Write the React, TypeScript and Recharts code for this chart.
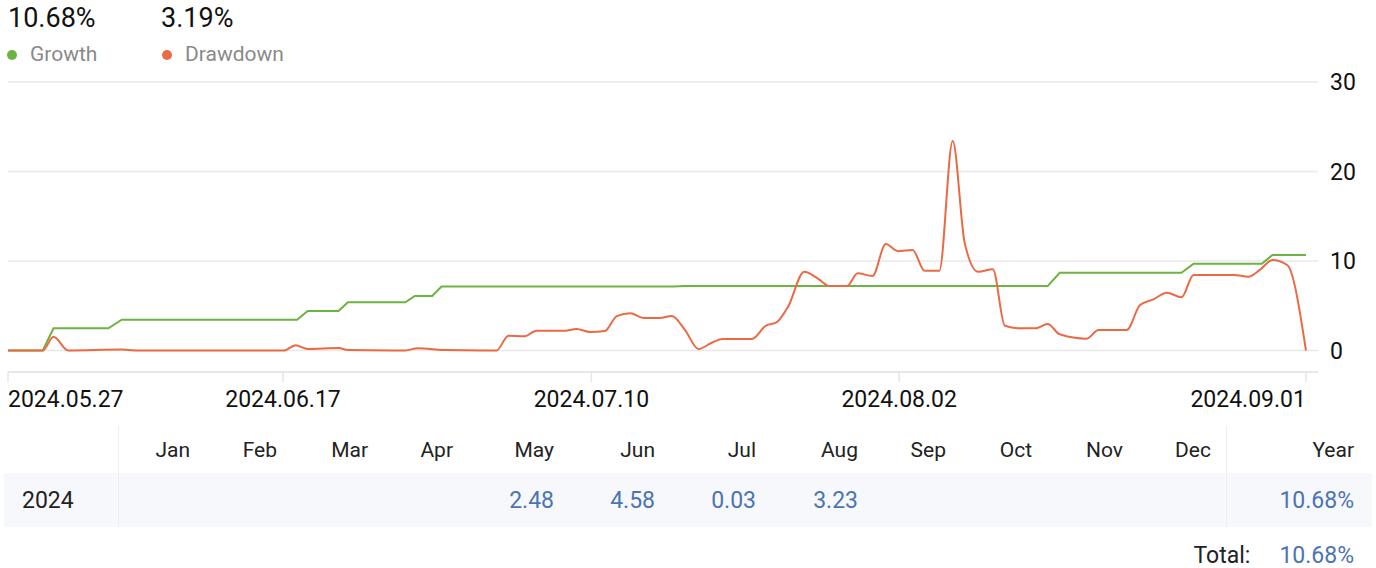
import React from "react"
import { LineChart, Line, XAxis, YAxis, CartesianGrid } from "recharts"

const GREEN = "#6cb33f"
const ORANGE = "#eb6a43"
const BLUE = "#4b74b4"

const growthTotal = "10.68%"
const drawdownMax = "3.19%"

// days since 2024.05.27
const growthX = [0, 2.6, 3.4, 7.5, 8.5, 21.6, 22.4, 24.7, 25.4, 29.7, 30.4, 31.7, 32.4, 49.7, 50.6, 77.7, 78.6, 87.7, 88.6, 93.7, 94.5, 97]
const growthY = [0, 0, 2.48, 2.48, 3.44, 3.44, 4.41, 4.41, 5.39, 5.39, 6.09, 6.09, 7.15, 7.15, 7.2, 7.2, 8.69, 8.69, 9.7, 9.7, 10.68, 10.68]

const drawdownX = [
  0, 2.6, 3.4, 4.5, 8.5, 9.5, 20.6, 21.5, 22.4, 24.7, 25.4, 29.7, 30.6, 32.7, 36.5, 37.4, 38.6, 39.5,
  41.5, 42.5, 43.5, 44.6, 45.5, 46.5, 47.5, 48.7, 49.6, 50.6, 51.6, 52.6, 53.4, 55.6, 56.6, 57.5,
  58.3, 59.5, 60.5, 61.4, 62.7, 63.5, 64.6, 65.6, 66.5, 67.6, 68.5, 69.6, 70.6, 71.5, 72.5, 73.6,
  74.5, 75.6, 76.8, 77.7, 78.6, 80.6, 81.5, 83.6, 84.6, 85.6, 86.6, 87.7, 88.6, 91.6, 92.7, 93.6,
  94.5, 95.6, 97,
]
const drawdownY = [
  0, 0, 1.54, 0, 0.1, 0, 0, 0.6, 0.17, 0.28, 0.05, 0, 0.25, 0.05, 0, 1.65, 1.6, 2.2,
  2.2, 2.4, 2.07, 2.18, 3.85, 4.15, 3.63, 3.63, 3.85, 2.29, 0.17, 0.87, 1.28, 1.28, 2.74, 3.22,
  4.9, 8.8, 8.07, 7.2, 7.2, 8.63, 8.32, 11.9, 11.1, 11.23, 8.92, 8.92, 23.4, 11.98, 8.8, 9.07,
  2.77, 2.48, 2.48, 2.96, 1.81, 1.32, 2.29, 2.29, 5.08, 5.72, 6.46, 5.94, 8.44, 8.44, 8.25, 9.07,
  10.11, 9.55, 0,
]

const xTicks = [0, 20.55, 43.6, 66.6, 97]
const xTickLabels = ["2024.05.27", "2024.06.17", "2024.07.10", "2024.08.02", "2024.09.01"]
const yTicks = [0, 10, 20, 30]

const months = ["Jan", "Feb", "Mar", "Apr", "May", "Jun", "Jul", "Aug", "Sep", "Oct", "Nov", "Dec"]
const monthValues = ["", "", "", "", "2.48", "4.58", "0.03", "3.23", "", "", "", ""]
const yearLabel = "2024"
const yearValue = "10.68%"
const totalValue = "10.68%"

// widths of the month columns (px), text right-aligned
const colWidths = [71, 87, 91, 85, 101, 101, 101, 102, 88, 86, 91, 103]

const growthData = growthX.map((x, i) => ({ x, v: growthY[i] }))
const drawdownData = drawdownX.map((x, i) => ({ x, v: drawdownY[i] }))

const DateTick = (props: any) => {
  const { x, y, payload } = props
  const i = xTicks.indexOf(payload.value)
  const anchor = i === 0 ? "start" : i === xTicks.length - 1 ? "end" : "middle"
  return (
    <text x={x} y={y} dy="0.71em" textAnchor={anchor} fill="#111" fontSize={23} fontFamily="Roboto">
      {xTickLabels[i]}
    </text>
  )
}

const Dot = ({ color, left }: { color: string; left: number }) => (
  <div style={{ position: "absolute", left, top: 50, width: 10, height: 10, borderRadius: 5, background: color }} />
)

export default function App() {
  const gridCols = `115px ${colWidths.map((w) => w + "px").join(" ")} 144px`
  return (
    <div style={{ position: "relative", width: 1376, height: 568, fontFamily: "Roboto", background: "#fff", overflow: "hidden" }}>
      <style>{`body{margin:0}`}</style>

      <div style={{ position: "absolute", left: 8, top: 5, fontSize: 27, lineHeight: "27px", color: "#111" }}>{growthTotal}</div>
      <div style={{ position: "absolute", left: 161, top: 5, fontSize: 27, lineHeight: "27px", color: "#111" }}>{drawdownMax}</div>
      <Dot color={GREEN} left={7} />
      <div style={{ position: "absolute", left: 30, top: 44, fontSize: 21, lineHeight: "21px", color: "#8a8a8a" }}>Growth</div>
      <Dot color={ORANGE} left={162} />
      <div style={{ position: "absolute", left: 185, top: 44, fontSize: 21, lineHeight: "21px", color: "#8a8a8a" }}>Drawdown</div>

      <div style={{ position: "absolute", left: 0, top: 0 }}>
        <LineChart width={1376} height={426} margin={{ top: 82, right: 0, bottom: 0, left: 8 }}>
          <CartesianGrid vertical={false} stroke="#e8e8e8" strokeWidth={1.5} />
          <XAxis
            dataKey="x"
            type="number"
            domain={[0, 97.9]}
            ticks={xTicks}
            interval={0}
            height={54}
            stroke="#e6e6e6"
            strokeWidth={1.5}
            tickSize={10}
            tickMargin={9}
            tick={<DateTick />}
            allowDuplicatedCategory={false}
          />
          <YAxis
            orientation="right"
            type="number"
            domain={[-2.4, 30]}
            ticks={yTicks}
            width={58}
            axisLine={false}
            tickLine={false}
            tickSize={0}
            tickMargin={12}
            tick={{ fill: "#111", fontSize: 23, fontFamily: "Roboto" }}
          />
          <Line data={growthData} dataKey="v" type="linear" stroke={GREEN} strokeWidth={2} dot={false} activeDot={false} isAnimationActive={false} />
          <Line data={drawdownData} dataKey="v" type="monotone" stroke={ORANGE} strokeWidth={2} dot={false} activeDot={false} isAnimationActive={false} />
        </LineChart>
      </div>

      <div style={{ position: "absolute", left: 4, top: 426, width: 1368 }}>
        <div style={{ display: "grid", gridTemplateColumns: gridCols, height: 47, alignItems: "stretch", fontSize: 21, color: "#222" }}>
          <div style={{ borderRight: "1px solid #eceef4" }} />
          {months.map((m, i) => (
            <div key={m} style={{ display: "flex", alignItems: "center", justifyContent: "flex-end", paddingRight: i === 11 ? 15 : 0 }}>{m}</div>
          ))}
          <div style={{ display: "flex", alignItems: "center", justifyContent: "flex-end", paddingRight: 16, borderLeft: "1px solid #eceef4" }}>Year</div>
        </div>
        <div style={{ display: "grid", gridTemplateColumns: gridCols, height: 54, background: "#f7f8fc", fontSize: 23 }}>
          <div style={{ display: "flex", alignItems: "center", paddingLeft: 18, color: "#222", borderRight: "1px solid #eceef4" }}>{yearLabel}</div>
          {monthValues.map((v, i) => (
            <div key={i} style={{ display: "flex", alignItems: "center", justifyContent: "flex-end", paddingRight: i === 11 ? 15 : 0, color: BLUE }}>{v}</div>
          ))}
          <div style={{ display: "flex", alignItems: "center", justifyContent: "flex-end", paddingRight: 16, color: BLUE, borderLeft: "1px solid #eceef4" }}>{yearValue}</div>
        </div>
        <div style={{ display: "flex", justifyContent: "flex-end", alignItems: "center", height: 56, fontSize: 23, paddingRight: 18 }}>
          <span style={{ color: "#222", marginRight: 29 }}>Total:</span>
          <span style={{ color: BLUE }}>{totalValue}</span>
        </div>
      </div>
    </div>
  )
}
